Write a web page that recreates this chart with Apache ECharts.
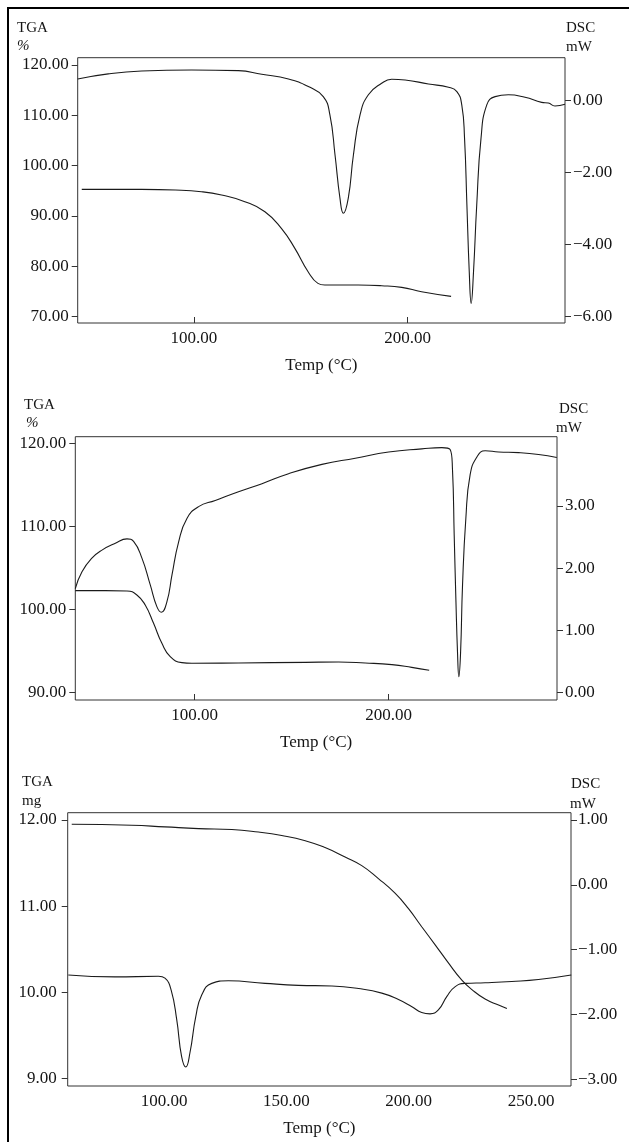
<!DOCTYPE html>
<html>
<head>
<meta charset="utf-8">
<script src="https://cdn.jsdelivr.net/npm/echarts@6/dist/echarts.min.js"></script>
<style>
  html, body { margin: 0; padding: 0; background: #fff; }
  #chart { width: 629px; height: 1142px; }
</style>
</head>
<body>
<div id="chart"></div>
<script>
// ---- Panel 1: TGA (%) and DSC (mW) vs temperature ----
const p1DscT = [45.6, 59.9, 75.5, 98.9, 120.8, 131.7, 144.2, 153.5, 160.5, 163.6, 166.0, 168.3, 169.9, 172.2, 174.6, 177.7, 181.6, 187.8, 192.5, 198.8, 209.7, 219.1, 223.0, 225.3, 226.6, 227.7, 228.8, 229.7, 230.8, 232.3, 234.3, 237.0, 240.9, 247.1, 254.9, 262.7, 265.8, 268.9, 273.6];
const p1Dsc  = [0.60, 0.74, 0.82, 0.85, 0.83, 0.73, 0.60, 0.39, 0.11, -0.40, -1.51, -2.71, -3.13, -2.71, -1.51, -0.40, 0.16, 0.48, 0.59, 0.57, 0.46, 0.37, 0.25, -0.12, -1.05, -2.90, -4.75, -5.63, -4.75, -2.90, -1.05, -0.12, 0.11, 0.16, 0.09, -0.05, -0.07, -0.15, -0.10];
const p1TgaT = [47.5, 75.5, 91.3, 103.5, 112.9, 123.8, 133.2, 140.9, 147.2, 153.4, 158.0, 161.2, 176.8, 187.8, 197.2, 206.5, 220.3];
const p1Tga  = [95.3, 95.3, 95.17, 94.83, 94.17, 92.85, 90.86, 87.55, 83.58, 78.94, 76.62, 76.29, 76.29, 76.16, 75.83, 74.97, 74.04];
const p1TgaTicks = [70, 80, 90, 100, 110, 120];
const p1DscTicks = [-6, -4, -2, 0];
const p1TempTicks = [100, 200];

// ---- Panel 2 ----
const p2DscT = [38.45, 41.9, 47.0, 52.2, 59.1, 65.1, 68.5, 72.8, 77.1, 80.5, 82.8, 85.7, 88.3, 91.7, 96.0, 102.0, 110.6, 122.6, 134.7, 148.4, 165.6, 182.8, 200.0, 217.1, 227.4, 231.7, 232.9, 233.8, 234.7, 235.5, 236.2, 237.1, 238.1, 239.8, 242.0, 245.5, 249.8, 256.7, 267.0, 277.3, 286.7];
const p2Dsc  = [1.67, 1.94, 2.16, 2.29, 2.40, 2.47, 2.43, 2.16, 1.73, 1.38, 1.29, 1.46, 1.89, 2.42, 2.80, 2.99, 3.09, 3.23, 3.36, 3.52, 3.67, 3.77, 3.87, 3.92, 3.94, 3.91, 3.60, 2.53, 1.46, 0.65, 0.25, 0.65, 1.73, 2.80, 3.50, 3.79, 3.89, 3.87, 3.86, 3.83, 3.78];
const p2TgaT = [38.45, 53.9, 65.1, 70.2, 74.5, 78.8, 83.1, 87.4, 93.4, 98.6, 122.6, 157.0, 174.2, 187.9, 201.7, 211.9, 220.9];
const p2Tga  = [102.25, 102.25, 102.2, 101.73, 100.52, 98.31, 95.9, 94.3, 93.57, 93.49, 93.53, 93.61, 93.65, 93.53, 93.33, 93.0, 92.65];
const p2TgaTicks = [90, 100, 110, 120];
const p2DscTicks = [0, 1, 2, 3];
const p2TempTicks = [100, 200];

// ---- Panel 3: TGA in mg ----
const p3TgaT = [62.3, 86.8, 100.4, 114.1, 127.7, 138.6, 148.1, 157.7, 165.8, 174.0, 180.8, 187.6, 194.4, 199.9, 205.3, 210.8, 216.2, 221.7, 225.8, 231.2, 236.7, 240.1];
const p3Tga  = [11.95, 11.94, 11.92, 11.90, 11.89, 11.86, 11.82, 11.76, 11.68, 11.57, 11.47, 11.32, 11.15, 10.97, 10.76, 10.55, 10.34, 10.14, 10.03, 9.92, 9.85, 9.81];
const p3DscT = [60.9, 80.0, 97.7, 100.4, 102.9, 105.2, 107.2, 108.9, 110.6, 113.0, 115.4, 119.5, 126.3, 141.3, 154.9, 168.6, 179.5, 189.0, 195.8, 201.3, 205.3, 208.7, 212.1, 215.6, 219.0, 223.1, 231.2, 242.1, 253.0, 266.4];
const p3Dsc  = [-1.39, -1.42, -1.41, -1.44, -1.62, -2.08, -2.65, -2.81, -2.59, -2.03, -1.70, -1.52, -1.48, -1.52, -1.55, -1.56, -1.60, -1.67, -1.77, -1.88, -1.97, -1.99, -1.93, -1.72, -1.57, -1.52, -1.51, -1.49, -1.46, -1.39];
const p3TgaTicks = [9, 10, 11, 12];
const p3DscTicks = [-3, -2, -1, 0, 1];
const p3TempTicks = [100, 150, 200, 250];

const FONT = 'Liberation Serif';
const INK = '#151515';
const zip = (xs, ys) => xs.map((x, i) => [x, ys[i]]);
const fmt = v => (v < 0 ? '\u2212' : '') + Math.abs(v).toFixed(2);

const grids = [
  { left: 77.7, top: 57.7, width: 487.3, height: 265.3 },
  { left: 75.3, top: 436.7, width: 481.7, height: 263.3 },
  { left: 67.7, top: 812.7, width: 503.3, height: 273.3 }
].map(g => Object.assign({ show: true, borderColor: '#333', borderWidth: 1, backgroundColor: 'transparent' }, g));

function xAxis(gi, min, max, ticks, showTicks) {
  return {
    type: 'value', gridIndex: gi, min: min, max: max, position: 'bottom',
    name: 'Temp (\u00B0C)', nameLocation: 'middle', nameGap: 34,
    nameTextStyle: { fontFamily: FONT, fontSize: 17, color: INK },
    axisLine: { show: false, onZero: false },
    splitLine: { show: false },
    axisTick: { show: showTicks, inside: true, length: 6, customValues: ticks, lineStyle: { color: '#333' } },
    axisLabel: { customValues: ticks, formatter: fmt, fontFamily: FONT, fontSize: 17, color: INK, margin: 7 }
  };
}
function yAxis(gi, pos, min, max, ticks, margin) {
  return {
    type: 'value', gridIndex: gi, position: pos, min: min, max: max,
    axisLine: { show: false, onZero: false },
    splitLine: { show: false },
    axisTick: { show: true, inside: false, length: 6, customValues: ticks, lineStyle: { color: '#333' } },
    axisLabel: { customValues: ticks, formatter: fmt, fontFamily: FONT, fontSize: 17, color: INK, margin: margin }
  };
}
function line(xi, yi, data) {
  return {
    type: 'line', xAxisIndex: xi, yAxisIndex: yi, data: data,
    showSymbol: false, smooth: 0.5,
    lineStyle: { color: '#1a1a1a', width: 1.1 }, silent: true, animation: false
  };
}
function txt(x, y, s, italic) {
  return { type: 'text', left: x, top: y, style: { text: s, font: (italic ? 'italic ' : '') + '15px "' + FONT + '"', fill: INK } };
}

const option = {
  animation: false,
  grid: grids,
  xAxis: [
    xAxis(0, 45.6, 273.6, p1TempTicks, true),
    xAxis(1, 38.45, 286.8, p2TempTicks, true),
    xAxis(2, 60.65, 266.3, p3TempTicks, false)
  ],
  yAxis: [
    yAxis(0, 'left', 68.75, 121.45, p1TgaTicks, 9),
    yAxis(0, 'right', -6.175, 1.19, p1DscTicks, 8),
    yAxis(1, 'left', 89.07, 120.8, p2TgaTicks, 9),
    yAxis(1, 'right', -0.124, 4.116, p2DscTicks, 8),
    yAxis(2, 'left', 8.91, 12.085, p3TgaTicks, 11),
    yAxis(2, 'right', -3.103, 1.113, p3DscTicks, 7)
  ],
  series: [
    line(0, 1, zip(p1DscT, p1Dsc)),
    line(0, 0, zip(p1TgaT, p1Tga)),
    line(1, 3, zip(p2DscT, p2Dsc)),
    line(1, 2, zip(p2TgaT, p2Tga)),
    line(2, 4, zip(p3TgaT, p3Tga)),
    line(2, 5, zip(p3DscT, p3Dsc))
  ],
  graphic: [
    // page frame (top and left rules)
    { type: 'rect', shape: { x: 7, y: 7, width: 622, height: 2 }, style: { fill: '#000' } },
    { type: 'rect', shape: { x: 7, y: 7, width: 2, height: 1135 }, style: { fill: '#000' } },
    // axis headers
    txt(17, 21, 'TGA'), txt(17, 39, '%', true),
    txt(566, 21, 'DSC'), txt(566, 40, 'mW'),
    txt(24, 398, 'TGA'), txt(26, 416, '%', true),
    txt(559, 402, 'DSC'), txt(556, 421, 'mW'),
    txt(22, 775, 'TGA'), txt(22, 794, 'mg'),
    txt(571, 777, 'DSC'), txt(570, 797, 'mW')
  ]
};

const chart = echarts.init(document.getElementById('chart'), null, { renderer: 'canvas' });
chart.setOption(option);
</script>
</body>
</html>
